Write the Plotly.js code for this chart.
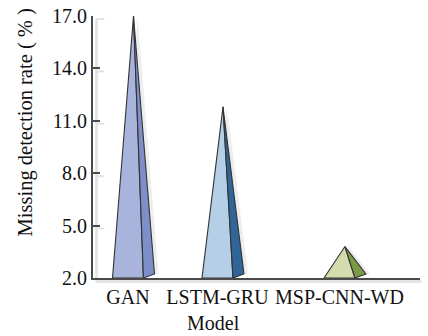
<!DOCTYPE html>
<html>
<head>
<meta charset="utf-8">
<script src="https://cdn.plot.ly/plotly-3.0.1.min.js"></script>
<style>html,body{margin:0;padding:0;background:#fff;}#chart{width:428px;height:336px;}</style>
</head>
<body>
<div id="chart"></div>
<script>
// ---- data ----
const categories = ['GAN', 'LSTM-GRU', 'MSP-CNN-WD'];
const missRate = [17.0, 11.8, 3.8];
const yTickVals = [2, 5, 8, 11, 14, 17];
const yTickText = ['2.0', '5.0', '8.0', '11.0', '14.0', '17.0'];
const xTitle = 'Model';
const yTitle = 'Missing detection rate ( % )';

// ---- layout / style constants ----
const catPos = [0, 1, 2.363];
const baseY = 2;
const halfW = 0.173;
const depthX = 0.123;
const depthY = 0.229;
const shadowDX = 0.045;
const frontColors = ['#a9b4dc', '#b4cfe6', '#d4dcae'];
const sideColors = ['#7e8ec9', '#30659a', '#7b9a49'];
const FONT = 'Liberation Serif, Times New Roman, serif';
const FS = 20;

const traces = [];
categories.forEach((cat, i) => {
  const c = catPos[i], v = missRate[i];
  const apexX = c + depthX / 2;
  // shadow
  traces.push({
    type: 'scatter', mode: 'lines', fill: 'toself',
    x: [c - halfW + shadowDX * 2, c + halfW + depthX + shadowDX, apexX + shadowDX, c - halfW + shadowDX * 2],
    y: [baseY, baseY + depthY, v, baseY],
    fillcolor: 'rgba(0,0,0,0.07)', line: {width: 0, color: 'rgba(0,0,0,0)'},
    hoverinfo: 'skip', showlegend: false, cliponaxis: false
  });
  // front face
  traces.push({
    type: 'scatter', mode: 'lines', fill: 'toself', name: cat,
    x: [c - halfW, c + halfW, apexX, c - halfW],
    y: [baseY, baseY, v, baseY],
    fillcolor: frontColors[i], line: {color: '#333333', width: 1.1},
    showlegend: false, cliponaxis: false
  });
  // side face
  traces.push({
    type: 'scatter', mode: 'lines', fill: 'toself', name: cat,
    x: [c + halfW, c + halfW + depthX, apexX, c + halfW],
    y: [baseY, baseY + depthY, v, baseY],
    fillcolor: sideColors[i], line: {color: '#333333', width: 1.1},
    showlegend: false, cliponaxis: false
  });
});

// axis shadows
const shapes = [
  {type: 'line', xref: 'paper', yref: 'paper', x0: 0.011, x1: 0.011, y0: -0.012, y1: 0.99,
   line: {color: '#e4e4e4', width: 3}, layer: 'below'},
  {type: 'line', xref: 'paper', yref: 'paper', x0: 0.01, x1: 1.005, y0: -0.013, y1: -0.013,
   line: {color: '#e4e4e4', width: 3}, layer: 'below'}
];
yTickVals.forEach(t => {
  shapes.push({type: 'line', xref: 'paper', yref: 'y', ysizemode: 'pixel', yanchor: t,
    x0: 0.01, x1: 0.035, y0: -3, y1: -3, line: {color: '#e4e4e4', width: 2}, layer: 'below'});
});

const layout = {
  width: 428, height: 336,
  margin: {l: 93, r: 8, t: 16, b: 58},
  paper_bgcolor: '#ffffff', plot_bgcolor: '#ffffff',
  font: {family: FONT, size: FS, color: '#111'},
  showlegend: false,
  shapes: shapes,
  annotations: [
    {text: xTitle, xref: 'paper', yref: 'paper', x: 0.369, y: -0.17,
     xanchor: 'center', yanchor: 'middle', showarrow: false,
     font: {family: FONT, size: FS, color: '#111'}},
    {text: yTitle, xref: 'paper', yref: 'paper', x: -0.207, y: 0.595, textangle: -90,
     xanchor: 'center', yanchor: 'middle', showarrow: false,
     font: {family: FONT, size: 20.5, color: '#111'}}
  ],
  xaxis: {
    range: [-0.391, 3.263],
    tickvals: catPos, ticktext: categories,
    showline: true, linecolor: '#4a4a4a', linewidth: 1.5,
    ticks: '', showgrid: false, zeroline: false,
    tickfont: {family: FONT, size: FS, color: '#111'}
  },
  yaxis: {
    range: [2, 17],
    tickvals: yTickVals, ticktext: yTickText,
    showline: true, linecolor: '#4a4a4a', linewidth: 2,
    ticks: 'inside', ticklen: 7, tickwidth: 2, tickcolor: '#4a4a4a',
    showgrid: false, zeroline: false,
    tickfont: {family: FONT, size: FS, color: '#111'}
  }
};

Plotly.newPlot('chart', traces, layout, {displayModeBar: false, staticPlot: true});
</script>
</body>
</html>
